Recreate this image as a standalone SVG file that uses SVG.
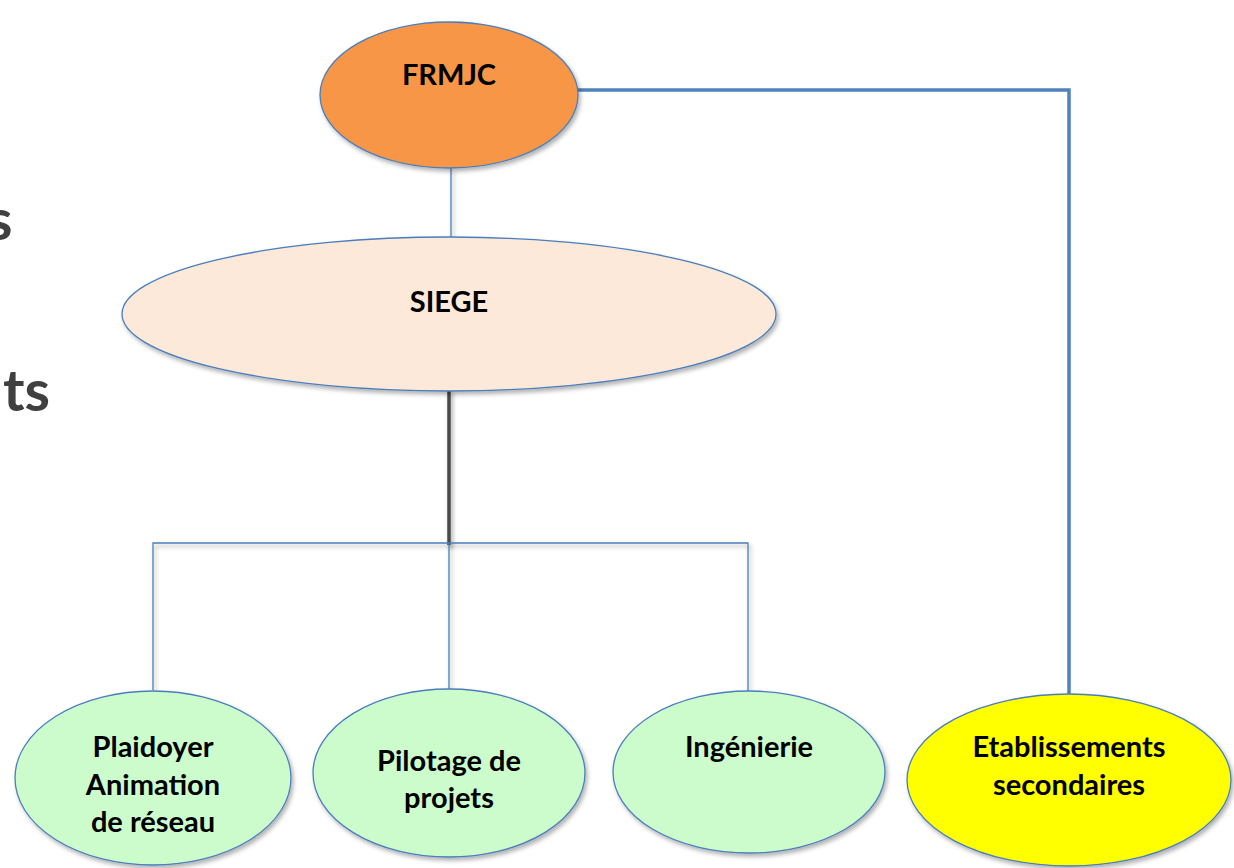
<svg xmlns="http://www.w3.org/2000/svg" width="1234" height="868" viewBox="0 0 1234 868">
<defs>
<style>
.lbl{font-family:Lato,"Liberation Sans",sans-serif;font-weight:bold;font-size:29px;fill:#000;text-anchor:middle}
.bg{font-family:Lato,"Liberation Sans",sans-serif;font-weight:bold;font-size:58px;fill:#404040}
.node{stroke:#4a7ebb;stroke-width:1.3;filter:url(#sh)}
.thin{fill:none;stroke:#4a7ebb;stroke-width:1.3;filter:url(#lsh)}
</style>
<filter id="sh" x="-10%" y="-10%" width="125%" height="130%">
<feDropShadow dx="2" dy="3" stdDeviation="2" flood-color="#000" flood-opacity="0.3"/>
</filter>
<filter id="lsh" filterUnits="userSpaceOnUse" x="0" y="0" width="1234" height="868">
<feDropShadow dx="2" dy="3" stdDeviation="2" flood-color="#000" flood-opacity="0.35"/>
</filter>
</defs>
<rect width="1234" height="868" fill="#fff"/>
<text class="bg" x="-13" y="240">s</text>
<text class="bg" x="3" y="411">ts</text>
<g id="connectors">
<line x1="451" y1="168" x2="451" y2="238" class="thin" stroke="#7a8aa0"/>
<line x1="449" y1="390" x2="449" y2="545" stroke="#4a4a4a" stroke-width="3.5" filter="url(#lsh)"/>
<polyline class="thin" points="153,690 153,543 748,543 748,692"/>
<line class="thin" x1="449" y1="543" x2="449" y2="690"/>
<polyline points="578,90 1069,90 1069,695" fill="none" stroke="#4f81bd" stroke-width="3.5"/>
</g>
<g id="frmjc">
<ellipse class="node" cx="449" cy="95" rx="129" ry="73" fill="#f79646"/>
<text class="lbl" x="449" y="85">FRMJC</text>
</g>
<g id="siege">
<ellipse class="node" cx="449" cy="314" rx="327" ry="77" fill="#fde9d9"/>
<text class="lbl" x="449" y="312">SIEGE</text>
</g>
<g id="plaidoyer">
<ellipse class="node" cx="153" cy="778" rx="138" ry="87" fill="#ccfccc"/>
<text class="lbl" x="153" y="757">Plaidoyer</text>
<text class="lbl" x="153" y="795">Animation</text>
<text class="lbl" x="153" y="832">de réseau</text>
</g>
<g id="pilotage">
<ellipse class="node" cx="449" cy="773" rx="136" ry="84" fill="#ccfccc"/>
<text class="lbl" x="449" y="771">Pilotage de</text>
<text class="lbl" x="449" y="808">projets</text>
</g>
<g id="ingenierie">
<ellipse class="node" cx="749" cy="772" rx="136" ry="81" fill="#ccfccc"/>
<text class="lbl" x="749" y="757">Ingénierie</text>
</g>
<g id="etablissements">
<ellipse class="node" cx="1069" cy="780" rx="162" ry="86" fill="#ffff00"/>
<text class="lbl" x="1069" y="757">Etablissements</text>
<text class="lbl" x="1069" y="795">secondaires</text>
</g>
</svg>
